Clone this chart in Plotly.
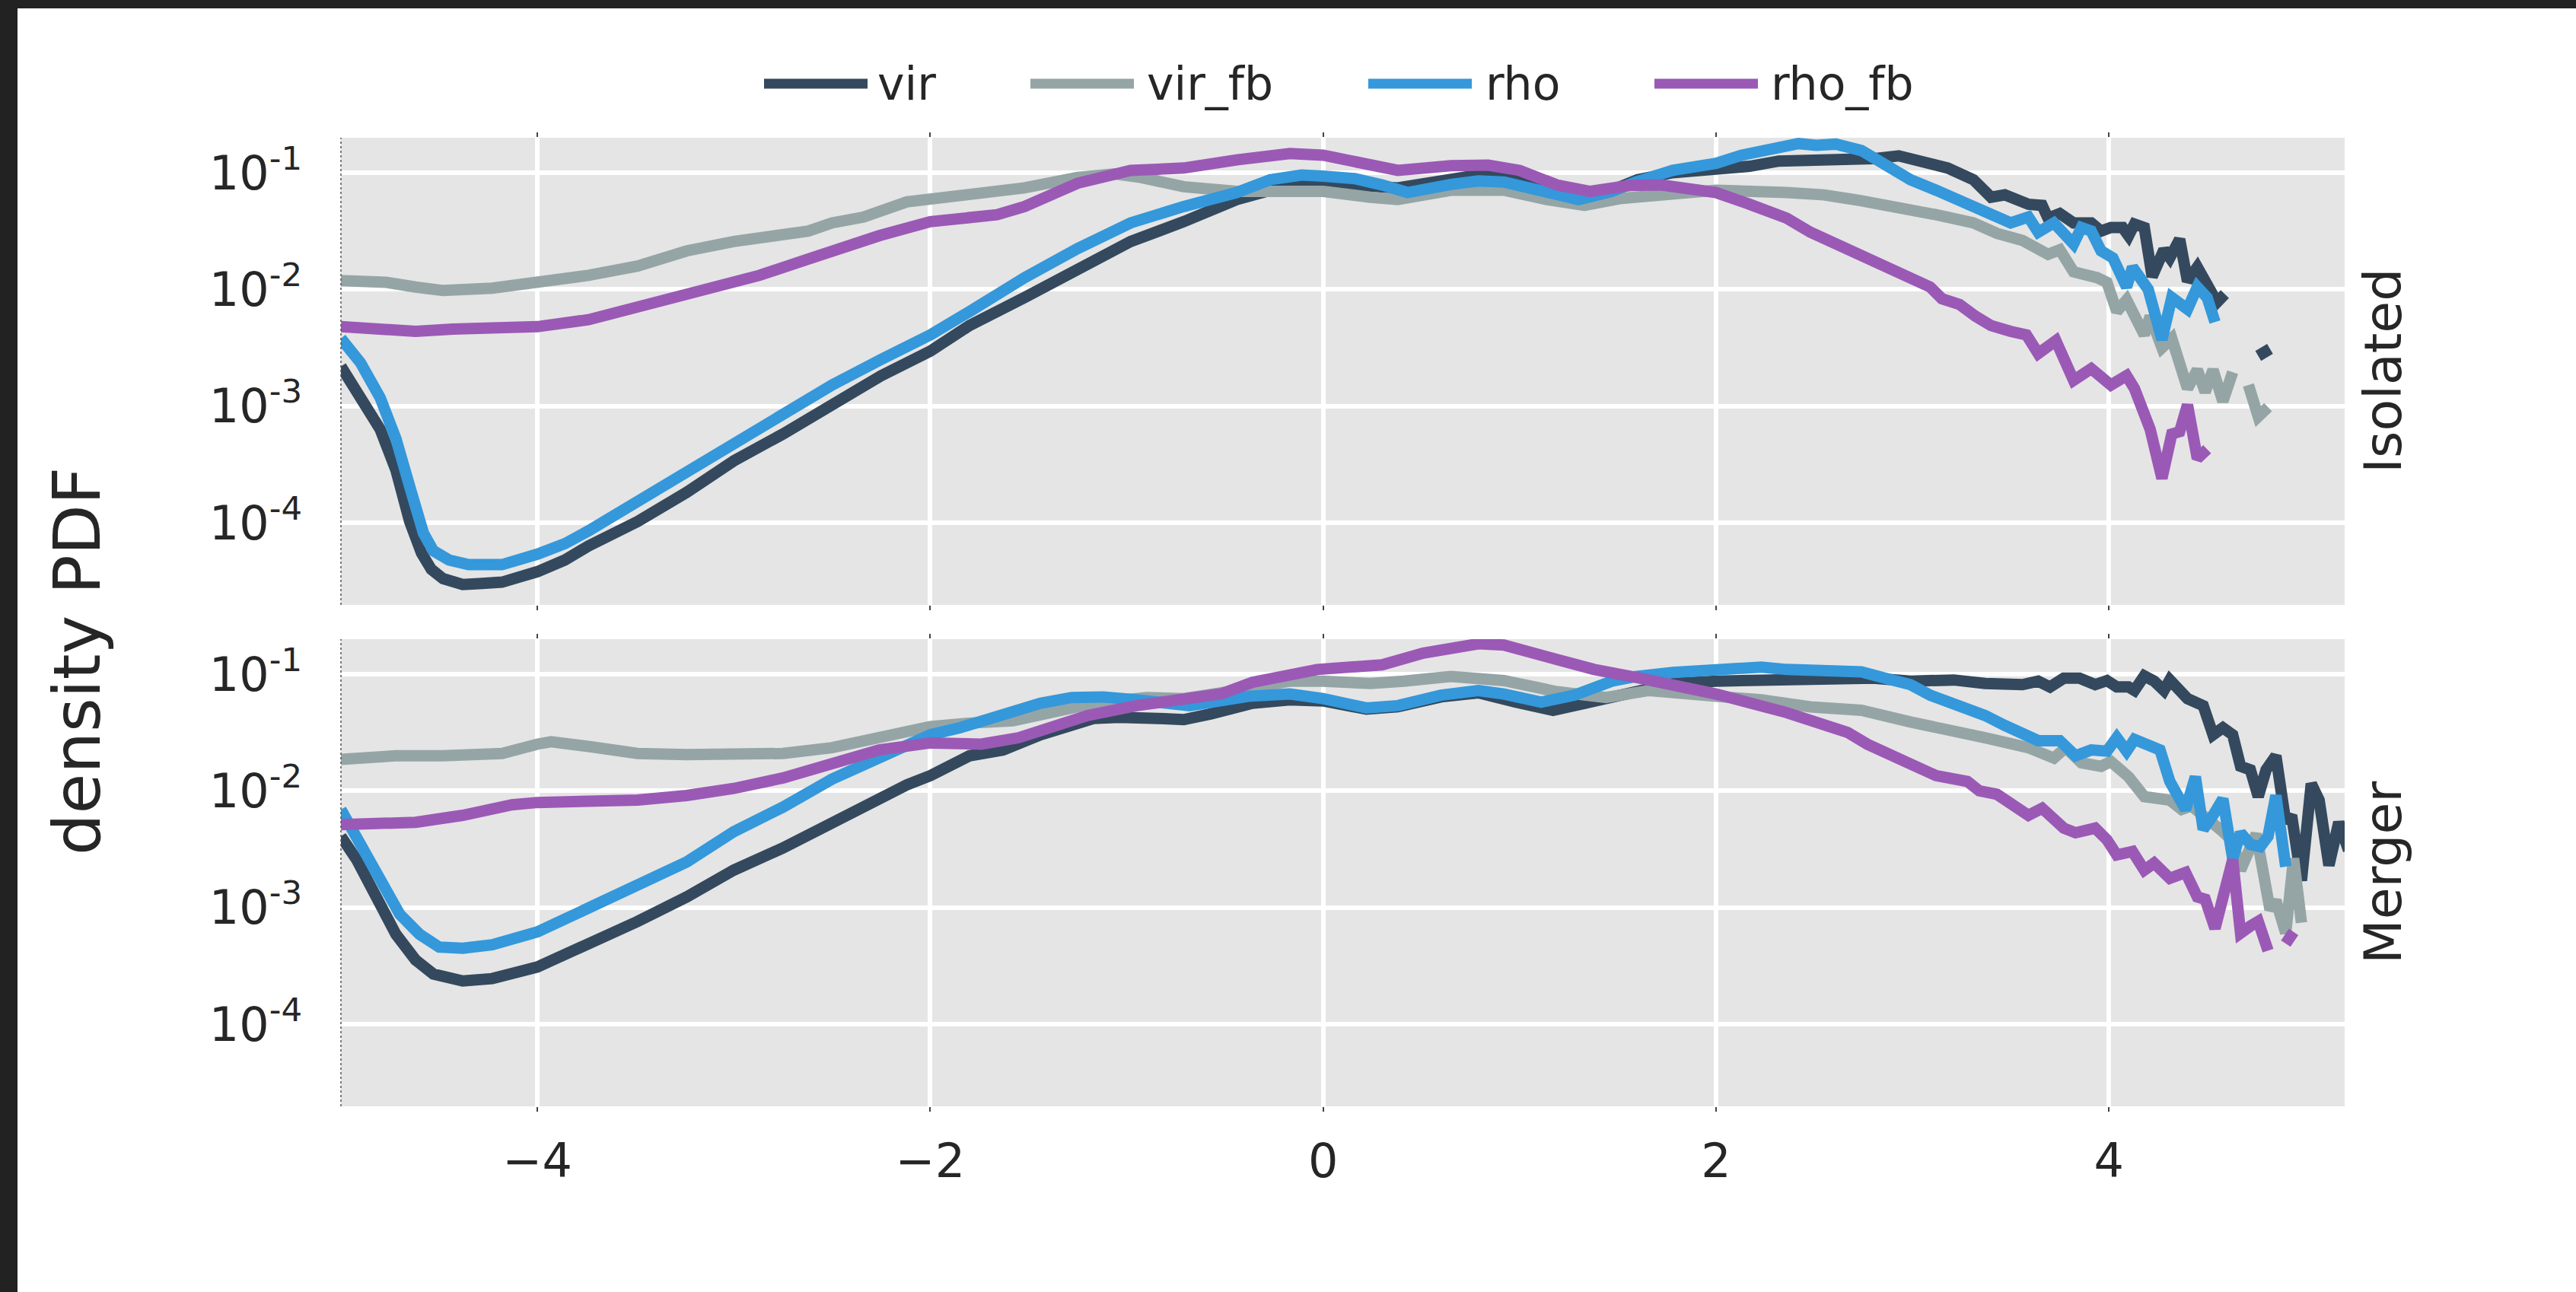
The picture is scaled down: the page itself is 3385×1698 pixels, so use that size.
import plotly.graph_objects as go

# ---------------------------------------------------------------------------
# Density PDFs (log10 of the PDF) for the two runs, four estimators each.
# None marks empty bins, which break the line.
# ---------------------------------------------------------------------------
series_names = ["vir", "vir_fb", "rho", "rho_fb"]
series_colors = ["#34495e", "#95a5a6", "#3498db", "#9b59b6"]
panel_labels = ["Isolated", "Merger"]

x_ticks = [-4, -2, 0, 2, 4]
y_ticks = [1e-1, 1e-2, 1e-3, 1e-4]
y_tick_labels = ["10<sup>-1</sup>", "10<sup>-2</sup>", "10<sup>-3</sup>", "10<sup>-4</sup>"]

# ---- Isolated -------------------------------------------------------------
iso_vir_x = [-5.0, -4.87, -4.80, -4.72, -4.65, -4.59, -4.54, -4.48, -4.38, -4.28, -4.18, -4.0,
             -3.86, -3.74, -3.49, -3.24, -3.0, -2.75, -2.50, -2.25, -2.0, -1.80, -1.52,
             -1.25, -0.98, -0.71, -0.44, -0.17, 0.0, 0.19, 0.38, 0.51, 0.79, 0.92, 1.06,
             1.19, 1.33, 1.47, 1.60, 1.78, 2.0, 2.17, 2.32, 2.51, 2.70, 2.80, 2.93, 3.05,
             3.18, 3.31, 3.40, 3.47, 3.59, 3.66, 3.69, 3.75, 3.82, 3.91, 3.96, 4.01, 4.07,
             4.10, 4.13, 4.18, 4.22, 4.28, 4.31, 4.36, 4.40, 4.45, 4.50, 4.55, 4.59, 4.68,
             4.76, 4.82]
iso_vir_logpdf = [-2.66, -3.01, -3.20, -3.55, -3.99, -4.26, -4.40, -4.48, -4.53, -4.52, -4.51,
                  -4.42, -4.32, -4.20, -3.99, -3.74, -3.47, -3.24, -3.00, -2.74, -2.53, -2.31,
                  -2.07, -1.82, -1.59, -1.42, -1.23, -1.105, -1.10, -1.11, -1.13, -1.09, -1.02,
                  -1.01, -1.05, -1.12, -1.19, -1.15, -1.06, -1.00, -0.97, -0.945, -0.90, -0.90,
                  -0.88, -0.88, -0.855, -0.90, -0.96, -1.06, -1.21, -1.19, -1.27, -1.28, -1.39,
                  -1.35, -1.43, -1.43, -1.50, -1.47, -1.47, -1.54, -1.44, -1.47, -1.89, -1.66,
                  -1.73, -1.57, -1.93, -1.81, -1.98, -2.11, -2.04, None, -2.57, -2.51]

iso_virfb_x = [-5.0, -4.77, -4.62, -4.48, -4.23, -4.0, -3.74, -3.49, -3.24, -3.0, -2.75,
               -2.62, -2.50, -2.34, -2.12, -1.93, -1.66, -1.52, -1.25, -1.06, -0.93, -0.71,
               -0.44, -0.17, 0.0, 0.24, 0.38, 0.65, 0.92, 1.14, 1.33, 1.52, 1.78, 2.0, 2.36,
               2.55, 2.74, 2.93, 3.12, 3.31, 3.43, 3.56, 3.63, 3.69, 3.75, 3.82, 3.94, 3.99,
               4.04, 4.09, 4.18, 4.21, 4.27, 4.32, 4.40, 4.45, 4.49, 4.53, 4.58, 4.63, 4.67,
               4.71, 4.76, 4.81]
iso_virfb_logpdf = [-1.925, -1.94, -1.98, -2.01, -1.99, -1.94, -1.88, -1.80, -1.67, -1.59,
                    -1.54, -1.50, -1.43, -1.38, -1.25, -1.21, -1.15, -1.13, -1.04, -1.01, -1.04,
                    -1.12, -1.16, -1.15, -1.16, -1.21, -1.23, -1.15, -1.15, -1.23, -1.28, -1.22,
                    -1.18, -1.15, -1.17, -1.19, -1.24, -1.29, -1.36, -1.43, -1.52, -1.58, -1.66,
                    -1.70, -1.66, -1.85, -1.90, -1.94, -2.19, -2.09, -2.39, -2.23, -2.50, -2.42,
                    -2.85, -2.69, -2.88, -2.69, -2.96, -2.71, None, -2.82, -3.09, -3.01]

iso_rho_x = [-5.0, -4.90, -4.80, -4.72, -4.65, -4.58, -4.53, -4.45, -4.35, -4.18, -4.0, -3.86,
             -3.74, -3.49, -3.24, -3.0, -2.75, -2.50, -2.25, -2.0, -1.80, -1.52, -1.25, -0.98,
             -0.71, -0.44, -0.27, -0.11, 0.0, 0.16, 0.30, 0.43, 0.65, 0.79, 0.92, 1.06, 1.30,
             1.47, 1.59, 1.78, 2.0, 2.13, 2.32, 2.42, 2.51, 2.61, 2.74, 2.86, 2.99, 3.12, 3.28,
             3.37, 3.50, 3.59, 3.64, 3.72, 3.82, 3.86, 3.91, 3.96, 4.02, 4.09, 4.12, 4.20, 4.27,
             4.32, 4.40, 4.45, 4.50, 4.54]
iso_rho_logpdf = [-2.42, -2.63, -2.93, -3.28, -3.69, -4.09, -4.24, -4.32, -4.36, -4.36, -4.27,
                  -4.18, -4.07, -3.82, -3.58, -3.34, -3.07, -2.82, -2.60, -2.39, -2.19, -1.90,
                  -1.65, -1.43, -1.29, -1.17, -1.06, -1.02, -1.03, -1.05, -1.105, -1.17, -1.10,
                  -1.07, -1.08, -1.13, -1.23, -1.16, -1.08, -0.98, -0.92, -0.85, -0.79, -0.75,
                  -0.765, -0.755, -0.81, -0.92, -1.06, -1.15, -1.27, -1.32, -1.43, -1.38, -1.51,
                  -1.43, -1.61, -1.47, -1.50, -1.67, -1.73, -1.98, -1.81, -2.00, -2.43, -2.07,
                  -2.17, -1.98, -2.07, -2.28]

iso_rhofb_x = [-5.0, -4.85, -4.62, -4.43, -4.0, -3.74, -3.49, -3.24, -3.0, -2.87, -2.62, -2.50,
               -2.26, -2.0, -1.66, -1.52, -1.25, -0.98, -0.71, -0.44, -0.17, 0.0, 0.24, 0.38,
               0.65, 0.84, 1.00, 1.19, 1.36, 1.56, 1.72, 1.88, 2.0, 2.17, 2.36, 2.48, 2.61,
               2.74, 2.86, 2.96, 3.09, 3.15, 3.24, 3.32, 3.40, 3.50, 3.58, 3.64, 3.73, 3.82,
               3.91, 4.01, 4.09, 4.13, 4.21, 4.27, 4.32, 4.36, 4.40, 4.45, 4.50]
iso_rhofb_logpdf = [-2.32, -2.34, -2.36, -2.34, -2.32, -2.26, -2.15, -2.03, -1.93, -1.88, -1.74,
                    -1.67, -1.54, -1.42, -1.36, -1.29, -1.09, -0.98, -0.96, -0.89, -0.835, -0.85,
                    -0.93, -0.98, -0.94, -0.935, -0.98, -1.105, -1.16, -1.11, -1.105, -1.13,
                    -1.17, -1.27, -1.39, -1.51, -1.61, -1.72, -1.80, -1.90, -1.98, -2.08, -2.13,
                    -2.23, -2.31, -2.36, -2.39, -2.55, -2.44, -2.78, -2.68, -2.82, -2.74, -2.85,
                    -3.20, -3.62, -3.24, -3.22, -2.99, -3.45, -3.37]

# ---- Merger ---------------------------------------------------------------
mer_vir_x = [-5.0, -4.92, -4.82, -4.72, -4.62, -4.53, -4.38, -4.23, -4.0, -3.74, -3.49, -3.24,
             -3.0, -2.75, -2.50, -2.34, -2.12, -2.0, -1.80, -1.63, -1.44, -1.17, -1.04, -0.84,
             -0.71, -0.57, -0.36, -0.17, 0.0, 0.22, 0.38, 0.60, 0.79, 0.98, 1.17, 1.33, 1.59,
             1.78, 2.0, 2.36, 2.61, 2.80, 2.99, 3.21, 3.37, 3.56, 3.64, 3.70, 3.77, 3.85, 3.93,
             3.99, 4.04, 4.10, 4.13, 4.18, 4.23, 4.28, 4.31, 4.40, 4.48, 4.53, 4.58, 4.63, 4.67,
             4.72, 4.76, 4.80, 4.85, 4.90, 4.93, 4.98, 5.03, 5.07, 5.12, 5.17, 5.22]
mer_vir_logpdf = [-2.39, -2.59, -2.91, -3.23, -3.45, -3.57, -3.63, -3.61, -3.51, -3.32, -3.12,
                  -2.91, -2.68, -2.49, -2.27, -2.14, -1.95, -1.87, -1.70, -1.65, -1.52, -1.38,
                  -1.37, -1.38, -1.39, -1.34, -1.25, -1.22, -1.23, -1.30, -1.28, -1.195, -1.16,
                  -1.24, -1.31, -1.25, -1.155, -1.08, -1.06, -1.04, -1.05, -1.035, -1.06, -1.05,
                  -1.08, -1.09, -1.06, -1.11, -1.035, -1.035, -1.09, -1.055, -1.11, -1.11, -1.14,
                  -1.015, -1.06, -1.14, -1.05, -1.21, -1.27, -1.52, -1.46, -1.52, -1.79, -1.82,
                  -2.05, -1.82, -1.70, -2.27, -2.21, -2.77, -1.94, -2.08, -2.64, -2.27, -2.51]

mer_virfb_x = [-5.0, -4.72, -4.48, -4.18, -4.0, -3.93, -3.74, -3.49, -3.24, -3.0, -2.75, -2.50,
               -2.26, -2.0, -1.80, -1.58, -1.39, -1.17, -0.90, -0.71, -0.44, -0.17, 0.0, 0.24,
               0.41, 0.65, 0.92, 1.19, 1.44, 1.66, 2.0, 2.23, 2.48, 2.74, 2.99, 3.18, 3.37,
               3.59, 3.72, 3.78, 3.86, 3.96, 4.01, 4.10, 4.18, 4.31, 4.37, 4.42, 4.51, 4.58,
               4.63, 4.67, 4.75, 4.82, 4.85, 4.90, 4.94, 4.98]
mer_virfb_logpdf = [-1.73, -1.70, -1.70, -1.68, -1.60, -1.58, -1.62, -1.68, -1.69, -1.68, -1.68,
                    -1.63, -1.545, -1.45, -1.42, -1.40, -1.33, -1.25, -1.20, -1.21, -1.14, -1.06,
                    -1.06, -1.08, -1.06, -1.02, -1.055, -1.15, -1.20, -1.14, -1.19, -1.22, -1.28,
                    -1.31, -1.41, -1.49, -1.545, -1.63, -1.72, -1.63, -1.76, -1.79, -1.75, -1.88,
                    -2.05, -2.08, -2.16, -2.13, -2.24, -2.35, -2.43, -2.68, -2.37, -3.02, -2.94,
                    -3.22, -2.58, -3.13]

mer_rho_x = [-5.0, -4.90, -4.80, -4.70, -4.60, -4.50, -4.38, -4.23, -4.0, -3.74, -3.49, -3.24,
             -3.0, -2.75, -2.50, -2.34, -2.20, -2.0, -1.85, -1.66, -1.44, -1.28, -1.12, -0.95,
             -0.68, -0.38, -0.17, 0.0, 0.22, 0.38, 0.60, 0.79, 0.92, 1.11, 1.28, 1.47, 1.59,
             1.78, 2.0, 2.23, 2.36, 2.61, 2.74, 2.86, 2.99, 3.09, 3.24, 3.37, 3.47, 3.59, 3.64,
             3.75, 3.83, 3.91, 3.99, 4.04, 4.09, 4.13, 4.20, 4.26, 4.31, 4.36, 4.39, 4.44, 4.48,
             4.53, 4.58, 4.63, 4.67, 4.72, 4.77, 4.81, 4.85, 4.90]
mer_rho_logpdf = [-2.16, -2.45, -2.77, -3.06, -3.23, -3.34, -3.35, -3.32, -3.21, -3.00, -2.81,
                  -2.61, -2.35, -2.14, -1.90, -1.78, -1.66, -1.52, -1.46, -1.37, -1.25, -1.20,
                  -1.195, -1.22, -1.27, -1.19, -1.17, -1.21, -1.29, -1.27, -1.18, -1.14, -1.17,
                  -1.24, -1.18, -1.06, -1.02, -0.985, -0.96, -0.94, -0.96, -0.98, -0.98, -1.035,
                  -1.09, -1.18, -1.27, -1.355, -1.44, -1.52, -1.57, -1.57, -1.70, -1.65, -1.66,
                  -1.545, -1.66, -1.56, -1.62, -1.65, -1.92, -2.10, -2.16, -1.88, -2.33, -2.21,
                  -2.07, -2.58, -2.36, -2.46, -2.48, -2.39, -2.04, -2.65]

mer_rhofb_x = [-5.0, -4.62, -4.38, -4.13, -4.0, -3.74, -3.49, -3.24, -3.0, -2.75, -2.50, -2.26,
               -2.0, -1.74, -1.55, -1.39, -1.20, -0.95, -0.68, -0.52, -0.36, -0.03, 0.30, 0.51,
               0.79, 0.92, 1.19, 1.38, 1.60, 1.79, 2.0, 2.36, 2.67, 2.77, 2.96, 3.12, 3.28, 3.34,
               3.43, 3.51, 3.59, 3.66, 3.77, 3.83, 3.93, 3.99, 4.04, 4.12, 4.18, 4.23, 4.31,
               4.39, 4.45, 4.49, 4.54, 4.63, 4.67, 4.72, 4.76, 4.81, 4.85, 4.90, 4.94]
mer_rhofb_logpdf = [-2.29, -2.27, -2.21, -2.12, -2.10, -2.09, -2.08, -2.04, -1.98, -1.89, -1.78,
                    -1.65, -1.59, -1.60, -1.545, -1.46, -1.355, -1.27, -1.22, -1.17, -1.07, -0.96,
                    -0.92, -0.82, -0.74, -0.75, -0.875, -0.96, -1.03, -1.09, -1.17, -1.33, -1.50,
                    -1.60, -1.75, -1.87, -1.92, -2.00, -2.03, -2.13, -2.21, -2.15, -2.32, -2.36,
                    -2.32, -2.42, -2.55, -2.52, -2.68, -2.62, -2.75, -2.70, -2.91, -2.93, -3.18,
                    -2.59, -3.22, -3.16, -3.12, -3.37, None, -3.31, -3.21]

panels = [
    [(iso_vir_x, iso_vir_logpdf), (iso_virfb_x, iso_virfb_logpdf),
     (iso_rho_x, iso_rho_logpdf), (iso_rhofb_x, iso_rhofb_logpdf)],
    [(mer_vir_x, mer_vir_logpdf), (mer_virfb_x, mer_virfb_logpdf),
     (mer_rho_x, mer_rho_logpdf), (mer_rhofb_x, mer_rhofb_logpdf)],
]

# ---------------------------------------------------------------------------
# Figure geometry (pixels)
# ---------------------------------------------------------------------------
W, H = 3385, 1698
PL, PR, PT, PB = 448, 3081, 181, 1454      # outer plotting box
TOP_BOTTOM, BOT_TOP = 795, 840             # gap between the two panels
PW, PH = PR - PL, PB - PT


def px_x(p):
    return (p - PL) / PW


def px_y(p):
    return (PB - p) / PH


TEXT = "#262626"
FONT = "DejaVu Sans"
LINE_W = 15

fig = go.Figure()

axis_ids = [("x", "y"), ("x2", "y2")]
for (xa, ya), series in zip(axis_ids, panels):
    for name, color, (xs, ls) in zip(series_names, series_colors, series):
        ys = [None if v is None else 10 ** v for v in ls]
        fig.add_trace(go.Scatter(
            x=xs, y=ys, mode="lines", name=name, showlegend=False,
            line=dict(color=color, width=LINE_W, shape="linear"),
            xaxis=xa, yaxis=ya, connectgaps=False, hoverinfo="skip",
        ))

common_x = dict(
    range=[-5.0, 5.2], tickvals=x_ticks, showgrid=True, gridcolor="white",
    gridwidth=5.5, zeroline=False, showline=False, ticks="outside", ticklen=6,
    tickwidth=1.5, tickcolor="#444444", mirror="ticks",
    tickfont=dict(family=FONT, size=62, color=TEXT),
)
common_y = dict(
    type="log", range=[-4.705, -0.70], tickvals=y_ticks, ticktext=y_tick_labels,
    showgrid=True, gridcolor="white", gridwidth=5.5, zeroline=False, showline=False,
    ticks="", ticklabelstandoff=50,
    tickfont=dict(family=FONT, size=62, color=TEXT),
)

fig.update_layout(
    width=W, height=H, autosize=False,
    margin=dict(l=PL, r=W - PR, t=PT, b=H - PB, pad=0),
    paper_bgcolor="white", plot_bgcolor="#E5E5E5",
    font=dict(family=FONT, color=TEXT),
    showlegend=False,
    xaxis=dict(common_x, domain=[0, 1], anchor="y", showticklabels=False),
    xaxis2=dict(common_x, domain=[0, 1], anchor="y2", matches="x",
                showticklabels=True, ticklabelstandoff=12),
    yaxis=dict(common_y, domain=[px_y(TOP_BOTTOM), 1], anchor="x"),
    yaxis2=dict(common_y, domain=[0, px_y(BOT_TOP)], anchor="x2"),
)

shapes = []
annotations = []

# dotted spine on the left edge of each panel
for y0, y1 in [(px_y(TOP_BOTTOM), 1), (0, px_y(BOT_TOP))]:
    shapes.append(dict(type="line", xref="paper", yref="paper", x0=0, x1=0, y0=y0, y1=y1,
                       line=dict(color="#555555", width=1.5, dash="dot"), layer="above"))

# panel labels on the right
for label, (y0, y1) in zip(panel_labels, [(px_y(TOP_BOTTOM), 1), (0, px_y(BOT_TOP))]):
    annotations.append(dict(text=label, xref="paper", yref="paper", x=px_x(3131),
                            y=(y0 + y1) / 2, textangle=-90, showarrow=False,
                            xanchor="center", yanchor="middle",
                            font=dict(family=FONT, size=68, color=TEXT)))

# shared y title
annotations.append(dict(text="density PDF", xref="paper", yref="paper", x=px_x(101),
                        y=px_y(869), textangle=-90, showarrow=False,
                        xanchor="center", yanchor="middle",
                        font=dict(family=FONT, size=86, color=TEXT)))

# legend row across the top
legend_swatches = [(1004, 1140, 1151), (1354, 1490, 1505), (1798, 1934, 1950), (2174, 2310, 2325)]
LEG_Y = 110
for name, color, (s0, s1, tx) in zip(series_names, series_colors, legend_swatches):
    shapes.append(dict(type="line", xref="paper", yref="paper", x0=px_x(s0), x1=px_x(s1),
                       y0=px_y(LEG_Y), y1=px_y(LEG_Y), line=dict(color=color, width=13)))
    annotations.append(dict(text=name, xref="paper", yref="paper", x=px_x(tx), y=px_y(LEG_Y),
                            xanchor="left", yanchor="middle", showarrow=False,
                            font=dict(family=FONT, size=60, color=TEXT)))

# dark frame along the top and left edges of the page
shapes.append(dict(type="rect", xref="paper", yref="paper", x0=px_x(0), x1=px_x(W),
                   y0=px_y(11), y1=px_y(0), fillcolor="#222222", line=dict(width=0),
                   layer="above"))
shapes.append(dict(type="rect", xref="paper", yref="paper", x0=px_x(0), x1=px_x(23),
                   y0=px_y(H), y1=px_y(0), fillcolor="#222222", line=dict(width=0),
                   layer="above"))

fig.update_layout(shapes=shapes, annotations=annotations)

fig.write_html("out.html", config={"displayModeBar": False})
